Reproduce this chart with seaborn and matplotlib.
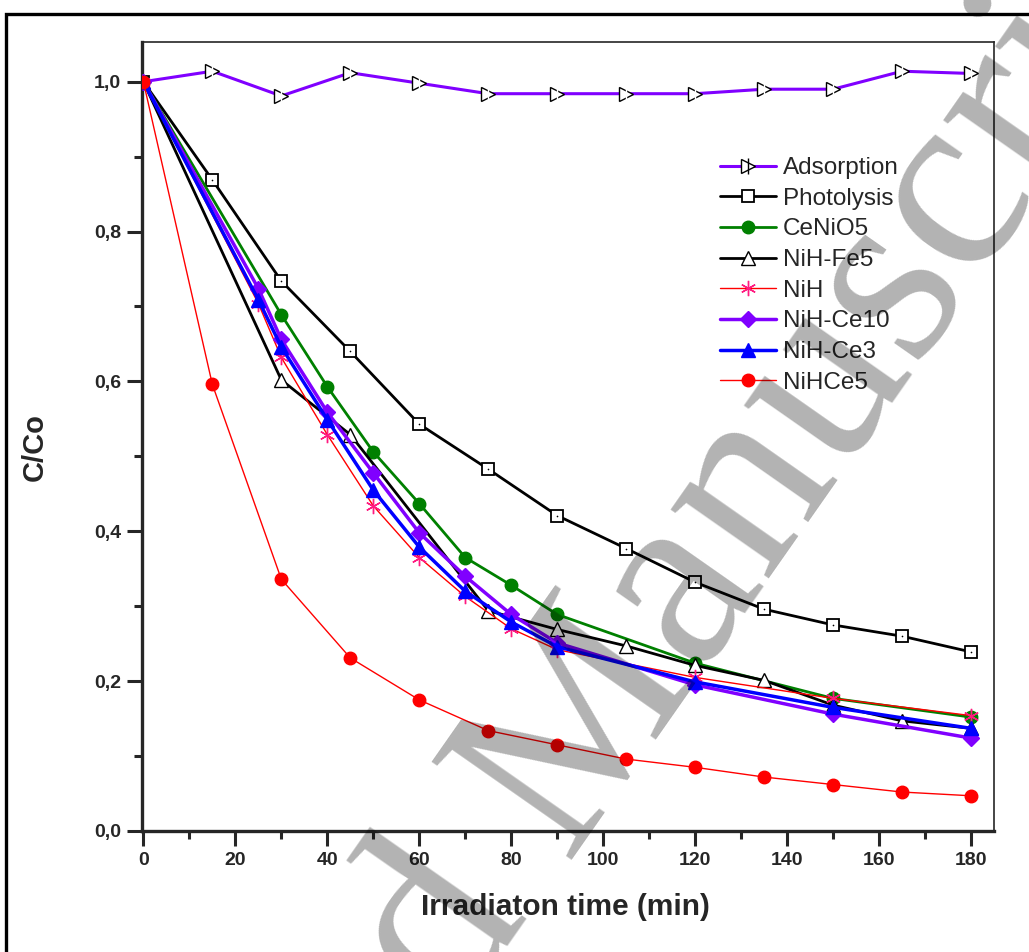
import numpy as np
import pandas as pd
import seaborn as sns
import matplotlib
matplotlib.use("Agg")
import matplotlib.pyplot as plt
from matplotlib.lines import Line2D
from matplotlib.patches import Rectangle
from matplotlib.ticker import MultipleLocator, FuncFormatter

# ---------------- data ----------------
t_ads = [0, 15, 30, 45, 60, 75, 90, 105, 120, 135, 150, 165, 180]
adsorption = [1.0, 1.014, 0.981, 1.012, 0.998, 0.984, 0.984, 0.984, 0.984, 0.990, 0.990, 1.014, 1.011]

t_pho = [0, 15, 30, 45, 60, 75, 90, 105, 120, 135, 150, 165, 180]
photolysis = [1.0, 0.869, 0.734, 0.640, 0.543, 0.483, 0.421, 0.377, 0.332, 0.296, 0.275, 0.260, 0.239]

t_cen = [0, 30, 40, 50, 60, 70, 80, 90, 120, 150, 180]
ceNiO5 = [1.0, 0.689, 0.593, 0.506, 0.437, 0.365, 0.328, 0.289, 0.224, 0.177, 0.152]

t_fe = [0, 30, 45, 75, 90, 105, 120, 135, 150, 165, 180]
nih_fe5 = [1.0, 0.602, 0.529, 0.294, 0.269, 0.247, 0.221, 0.201, 0.168, 0.147, 0.137]

t_nih = [0, 25, 30, 40, 50, 60, 70, 80, 90, 120, 150, 180]
nih = [1.0, 0.704, 0.632, 0.529, 0.434, 0.365, 0.313, 0.270, 0.242, 0.205, 0.177, 0.154]

t_ce10 = [0, 25, 30, 40, 50, 60, 70, 80, 90, 120, 150, 180]
nih_ce10 = [1.0, 0.724, 0.656, 0.559, 0.478, 0.398, 0.340, 0.289, 0.251, 0.195, 0.156, 0.124]

t_ce3 = [0, 25, 30, 40, 50, 60, 70, 80, 90, 120, 150, 180]
nih_ce3 = [1.0, 0.709, 0.646, 0.549, 0.455, 0.379, 0.320, 0.279, 0.246, 0.199, 0.165, 0.137]

t_ce5 = [0, 15, 30, 45, 60, 75, 90, 105, 120, 135, 150, 165, 180]
nihce5 = [1.0, 0.596, 0.336, 0.231, 0.175, 0.134, 0.115, 0.096, 0.085, 0.072, 0.062, 0.052, 0.047]

labels = ["Adsorption", "Photolysis", "CeNiO5", "NiH-Fe5", "NiH", "NiH-Ce10", "NiH-Ce3", "NiHCe5"]

# ---------------- style ----------------
sns.set_style("ticks")
plt.rcParams['font.family'] = ['Liberation Sans', 'DejaVu Sans']

fig = plt.figure(figsize=(10.29, 9.52), dpi=100)
ax = fig.add_axes([142/1029, 1-831/952, (994-142)/1029, (831-42)/952])

purple = '#8000ff'
styles = [
    dict(x=t_ads, y=adsorption, color=purple, lw=2.2, marker='>', ms=10, mfc='white', mec='black', mew=1.0),
    dict(x=t_pho, y=photolysis, color='black', lw=2.0, marker='s', ms=8.5, mfc='white', mec='black', mew=1.3),
    dict(x=t_cen, y=ceNiO5, color='#008000', lw=2.0, marker='o', ms=9, mfc='#008000', mec='#008000', mew=1.0),
    dict(x=t_fe, y=nih_fe5, color='black', lw=2.0, marker='^', ms=10.5, mfc='white', mec='black', mew=1.0),
    dict(x=t_nih, y=nih, color='#ff0000', lw=1.0, marker=(6, 2, 0), ms=11, mfc='#ff1a80', mec='#ff1a80', mew=1.0),
    dict(x=t_ce10, y=nih_ce10, color=purple, lw=2.5, marker='D', ms=8.5, mfc=purple, mec=purple, mew=1.0),
    dict(x=t_ce3, y=nih_ce3, color='#0000ff', lw=2.5, marker='^', ms=10.5, mfc='#0000ff', mec='#0000ff', mew=1.0),
    dict(x=t_ce5, y=nihce5, color='#ff0000', lw=1.0, marker='o', ms=9, mfc='#ff0000', mec='#ff0000', mew=1.0),
]

handles = []
for i, (lab, st) in enumerate(zip(labels, styles)):
    df = pd.DataFrame({"t": st["x"], "c": st["y"]})
    sns.lineplot(data=df, x="t", y="c", ax=ax, color=st["color"], linewidth=st["lw"],
                 marker=st["marker"], markersize=st["ms"], markerfacecolor=st["mfc"],
                 markeredgecolor=st["mec"], markeredgewidth=st["mew"], zorder=3 + i,
                 legend=False, sort=False, estimator=None)
    h = Line2D([], [], color=st["color"], lw=st["lw"], marker=st["marker"], ms=st["ms"],
               mfc=st["mfc"], mec=st["mec"], mew=st["mew"])
    if lab == "Adsorption":
        sns.lineplot(data=df, x="t", y="c", ax=ax, color='black', linewidth=0, marker='|',
                     markersize=12, markeredgewidth=1.0, zorder=3 + i, legend=False,
                     sort=False, estimator=None)
        h = (h, Line2D([], [], lw=0, color='black', marker='|', ms=12, mew=1.0))
    if lab == "Photolysis":
        sns.lineplot(data=df, x="t", y="c", ax=ax, color='black', linewidth=0, marker='o',
                     markersize=1.2, markeredgewidth=0, zorder=3 + i, legend=False,
                     sort=False, estimator=None)
    handles.append(h)

ax.set_xlim(-0.3, 185)
ax.set_ylim(0, 1.053)
ax.xaxis.set_major_locator(MultipleLocator(20))
ax.xaxis.set_minor_locator(MultipleLocator(10))
ax.yaxis.set_major_locator(MultipleLocator(0.2))
ax.yaxis.set_minor_locator(MultipleLocator(0.1))
ax.yaxis.set_major_formatter(FuncFormatter(lambda v, p: f"{v:.1f}".replace('.', ',')))
ax.xaxis.set_major_formatter(FuncFormatter(lambda v, p: f"{int(round(v))}"))

ax.tick_params(axis='both', which='major', direction='out', length=11, width=2.2,
               labelsize=14, pad=4, top=False, right=False)
ax.tick_params(axis='both', which='minor', direction='out', length=6, width=2.2,
               top=False, right=False)
for lab in ax.get_xticklabels() + ax.get_yticklabels():
    lab.set_fontweight('bold')

for s in ['left', 'bottom']:
    ax.spines[s].set_linewidth(2.4)
for s in ['top', 'right']:
    ax.spines[s].set_linewidth(1.2)
    ax.spines[s].set_visible(True)

ax.set_xlabel("Irradiaton time (min)", fontsize=21.5, fontweight='bold')
ax.xaxis.set_label_coords(0.4965, -0.079)
ax.set_ylabel("C/Co", fontsize=21, fontweight='bold')
ax.yaxis.set_label_coords(-0.11, 0.487)

ax.legend(handles, labels, loc='upper left', bbox_to_anchor=(0.678, 0.854),
          frameon=False, fontsize=17.5, handlelength=2.3, handletextpad=0.29,
          labelspacing=0.355, borderpad=0, borderaxespad=0)

# outer frame
fig.patches.append(Rectangle((6/1029, -0.2), 1.3, 1.2 - 14/952, transform=fig.transFigure,
                             fill=False, edgecolor='black', linewidth=2.4, zorder=10))

# watermark
wm_kw = dict(fontsize=187, family='Liberation Serif', color='black', alpha=0.3,
             rotation=55, rotation_mode='anchor', va='baseline', zorder=20)
fig.text(565/1029, 1-860/952, "Manuscript", ha='left', **wm_kw)
fig.text(528/1029, 1-913/952, "Accepted", ha='right', **wm_kw)

fig.savefig("out.png", dpi=100)
